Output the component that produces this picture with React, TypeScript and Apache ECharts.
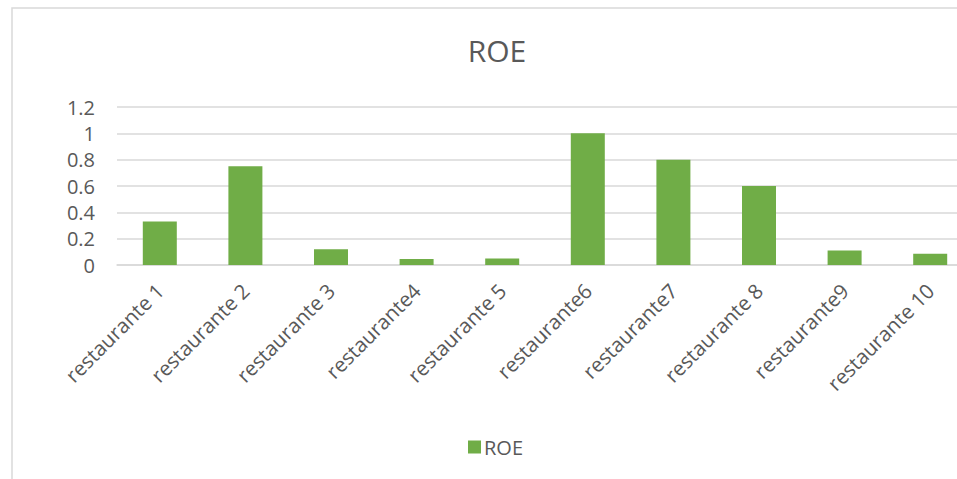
import React, { useEffect, useRef } from "react";
import * as echarts from "echarts";

const categories = [
  "restaurante 1",
  "restaurante 2",
  "restaurante 3",
  "restaurante4",
  "restaurante 5",
  "restaurante6",
  "restaurante7",
  "restaurante 8",
  "restaurante9",
  "restaurante 10",
];
const roeValues = [0.33, 0.75, 0.12, 0.045, 0.05, 1.0, 0.8, 0.6, 0.11, 0.085];
const yTicks = { min: 0, max: 1.2, interval: 0.2 };

const FONT = "'Open Sans', sans-serif";
const TEXT = "#595959";
const GRID = "#d9d9d9";
const GREEN = "#70AD47";

export default function App() {
  const ref = useRef<HTMLDivElement>(null);
  useEffect(() => {
    if (!ref.current) return;
    const chart = echarts.init(ref.current, undefined, { renderer: "svg" });
    chart.setOption({
      animation: false,
      backgroundColor: "#ffffff",
      title: {
        text: "ROE",
        left: 492,
        textAlign: "center",
        top: 30,
        textStyle: { fontFamily: FONT, fontSize: 30, fontWeight: "normal", color: TEXT },
      },
      legend: {
        data: ["ROE"],
        left: 463,
        top: 432,
        itemWidth: 13,
        itemHeight: 13,
        itemGap: 6,
        icon: "rect",
        textStyle: { fontFamily: FONT, fontSize: 20, color: TEXT, padding: [0, 0, 0, -2] },
      },
      grid: { left: 117, top: 107, height: 158, width: 856, containLabel: false },
      xAxis: {
        type: "category",
        data: categories,
        axisLine: { show: true, lineStyle: { color: GRID, width: 1.5 } },
        axisTick: { show: false },
        axisLabel: {
          interval: 0,
          rotate: 45,
          margin: 22,
          fontFamily: FONT,
          fontSize: 20.5,
          color: TEXT,
        },
      },
      yAxis: {
        type: "value",
        min: yTicks.min,
        max: yTicks.max,
        interval: yTicks.interval,
        axisLine: { show: false },
        axisTick: { show: false },
        splitLine: { lineStyle: { color: GRID, width: 1.5 } },
        axisLabel: {
          margin: 22,
          fontFamily: FONT,
          fontSize: 20,
          color: TEXT,
          formatter: (v: number) => String(Math.round(v * 10) / 10),
        },
      },
      graphic: [
        {
          type: "rect",
          shape: { x: 12, y: 8, width: 1200, height: 1000 },
          style: { fill: "none", stroke: GRID, lineWidth: 1.5 },
          silent: true,
          z: -1,
        },
      ],
      series: [
        {
          name: "ROE",
          type: "bar",
          data: roeValues,
          barWidth: 34,
          itemStyle: { color: GREEN },
        },
      ],
    });
    return () => chart.dispose();
  }, []);
  return (
    <div
      style={{
        position: "absolute",
        left: 0,
        top: 0,
        width: 957,
        height: 479,
        overflow: "hidden",
        background: "#fff",
      }}
    >
      <div ref={ref} style={{ width: 1000, height: 479 }} />
    </div>
  );
}
